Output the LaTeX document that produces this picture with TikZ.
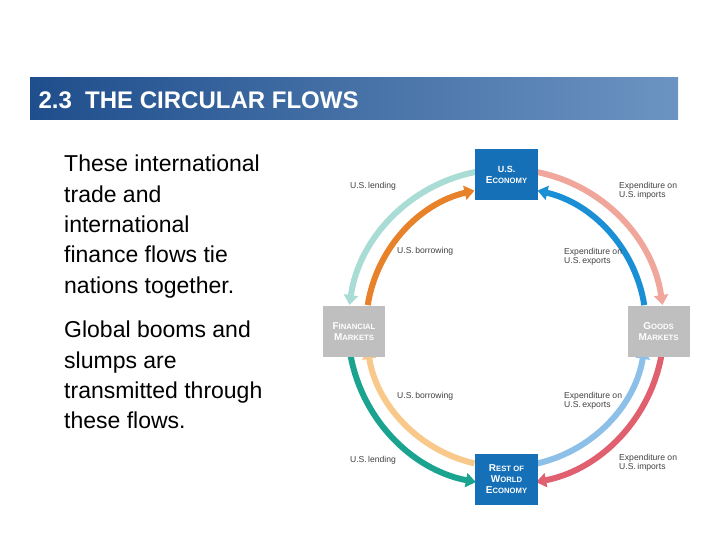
\documentclass[tikz,border=0pt]{standalone}
\usepackage{fontspec}
\setmainfont{Liberation Sans}
\usetikzlibrary{arrows.meta}
\newcommand{\sct}[2]{{\fontsize{10}{11}\selectfont #1}{\fontsize{7.7}{11}\selectfont #2}}
\begin{document}
\begin{tikzpicture}[x=1pt,y=1pt,
  flow/.style={line width=6pt,-{Triangle[length=10pt,width=14pt]}},
  ebox/.style={minimum width=63pt,minimum height=51pt,inner sep=1pt,align=center,text=white,font=\bfseries\fontsize{9}{11}\selectfont},
  gbox/.style={fill=black!25,minimum width=62pt,minimum height=51pt,inner sep=1pt,align=center,text=white,font=\bfseries\fontsize{9}{11}\selectfont},
  lab/.style={font=\fontsize{8.6}{9.5}\selectfont,text=black!75,align=left,inner sep=0pt},
  body/.style={font=\fontsize{23}{30.3}\selectfont,align=left,anchor=north west,inner sep=0pt}]
\definecolor{bluebox}{HTML}{1670B8}
\useasboundingbox (0,0) rectangle (720,-540);
% header
\shade[left color={rgb,255:red,31;green,78;blue,140},right color={rgb,255:red,108;green,148;blue,194}] (30,-78) rectangle (678,-120);
\node[anchor=west,text=white,font=\bfseries\fontsize{24}{26}\selectfont] (title) at (35,-100) {2.3\ \ THE CIRCULAR FLOWS};
% body
\node[body] (p1) at (64,-155) {These international\\trade and\\international\\finance flows tie\\nations together.};
\node[body] (p2) at (64,-321) {Global booms and\\slumps are\\transmitted through\\these flows.};
\coordinate (c) at (506,-327);
% arcs
\draw[flow,color={rgb,255:red,168;green,220;blue,212}] ([shift={(101:158)}]c) arc (101:172:158);
\draw[flow,color={rgb,255:red,232;green,130;blue,42}] ([shift={(171:140)}]c) arc (171:103:140);
\draw[flow,color={rgb,255:red,240;green,166;blue,155}] ([shift={(79:158)}]c) arc (79:8:158);
\draw[flow,color={rgb,255:red,26;green,143;blue,214}] ([shift={(9:140)}]c) arc (9:77:140);
\draw[flow,color={rgb,255:red,26;green,163;blue,143}] ([shift={(189:158)}]c) arc (189:259:158);
\draw[flow,color={rgb,255:red,248;green,201;blue,138}] ([shift={(257:140)}]c) arc (257:189:140);
\draw[flow,color={rgb,255:red,140;green,192;blue,232}] ([shift={(283:140)}]c) arc (283:351:140);
\draw[flow,color={rgb,255:red,224;green,96;blue,112}] ([shift={(351:158)}]c) arc (351:281:158);
% boxes
\node[ebox,fill=bluebox] (us) at (506.5,-174.5) {U.S.\\\sct{E}{CONOMY}};
\node[ebox,fill=bluebox] (row) at (506.5,-479) {\sct{R}{EST OF}\\\sct{W}{ORLD}\\\sct{E}{CONOMY}};
\node[gbox] (fm) at (354,-331.5) {\sct{F}{INANCIAL}\\\sct{M}{ARKETS}};
\node[gbox] (gm) at (658.5,-331.5) {\sct{G}{OODS}\\\sct{M}{ARKETS}};
% labels
\node[lab] (l1) at (373,-186) {U.S.\,lending};
\node[lab] (l2) at (397,-251) [anchor=west] {U.S.\,borrowing};
\node[lab] (l3) at (619,-191) [anchor=west] {Expenditure on\\U.S.\,imports};
\node[lab] (l4) at (564,-257) [anchor=west] {Expenditure on\\U.S.\,exports};
\node[lab] (l5) at (397,-396) [anchor=west] {U.S.\,borrowing};
\node[lab] (l6) at (564,-401) [anchor=west] {Expenditure on\\U.S.\,exports};
\node[lab] (l7) at (373,-460) {U.S.\,lending};
\node[lab] (l8) at (619,-463) [anchor=west] {Expenditure on\\U.S.\,imports};
\end{tikzpicture}
\end{document}
